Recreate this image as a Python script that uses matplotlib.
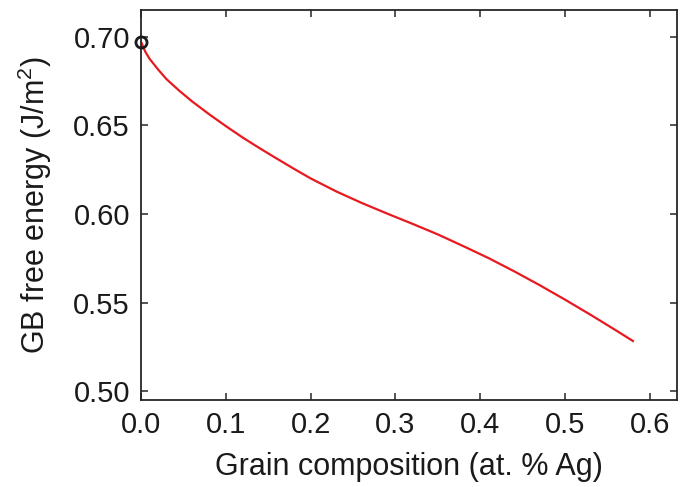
import numpy as np
import matplotlib
matplotlib.use("Agg")
import matplotlib.pyplot as plt

plt.rcParams['font.family'] = ['Liberation Sans', 'DejaVu Sans']
plt.rcParams['mathtext.fontset'] = 'custom'
plt.rcParams['mathtext.rm'] = 'Liberation Sans'

# grain composition (at. % Ag) vs GB free energy (J/m^2)
composition = [0, 0.005, 0.01, 0.015, 0.02, 0.03, 0.045, 0.06, 0.08, 0.10,
               0.12, 0.14, 0.16, 0.18, 0.20, 0.23, 0.26, 0.29, 0.32, 0.35,
               0.38, 0.41, 0.44, 0.47, 0.50, 0.53, 0.56, 0.58]
energy = [0.697, 0.6915, 0.6875, 0.6845, 0.6815, 0.676, 0.6695, 0.6635, 0.6563, 0.6495,
          0.643, 0.637, 0.6312, 0.6255, 0.620, 0.6127, 0.6062, 0.6002, 0.5944, 0.5884,
          0.5818, 0.575, 0.5676, 0.5598, 0.5516, 0.5431, 0.5343, 0.5283]

start_x = [0.0]
start_y = [0.697]

xticks = [0.0, 0.1, 0.2, 0.3, 0.4, 0.5, 0.6]
yticks = [0.50, 0.55, 0.60, 0.65, 0.70]

fig = plt.figure(figsize=(6.8, 4.87), dpi=100)
ax = fig.add_axes([0.2074, 0.1786, 0.7882, 0.8009])

ax.plot(composition, energy, color='#e8191f', lw=1.6, zorder=2)
ax.plot(start_x, start_y, 'o', mfc='none', mec='#1a1a1a', ms=8, mew=2, zorder=3, clip_on=False)

ax.set_xlim(0, 0.632)
ax.set_ylim(0.495, 0.715)
ax.set_xticks(xticks)
ax.set_xticklabels(['%.1f' % t for t in xticks])
ax.set_yticks(yticks)
ax.set_yticklabels(['%.2f' % t for t in yticks])

ax.tick_params(direction='in', length=5, width=1.1, top=True, right=True,
               labelsize=21, color='#262626', labelcolor='#1a1a1a', pad=8)
for s in ax.spines.values():
    s.set_linewidth(1.3)
    s.set_color('#262626')

ax.set_xlabel('Grain composition (at. % Ag)', fontsize=22, color='#1a1a1a', labelpad=9)
ax.set_ylabel('GB free energy (J/m$^{\\mathregular{2}}$)', fontsize=22, color='#1a1a1a', labelpad=14)

fig.savefig('out.png', dpi=100)
